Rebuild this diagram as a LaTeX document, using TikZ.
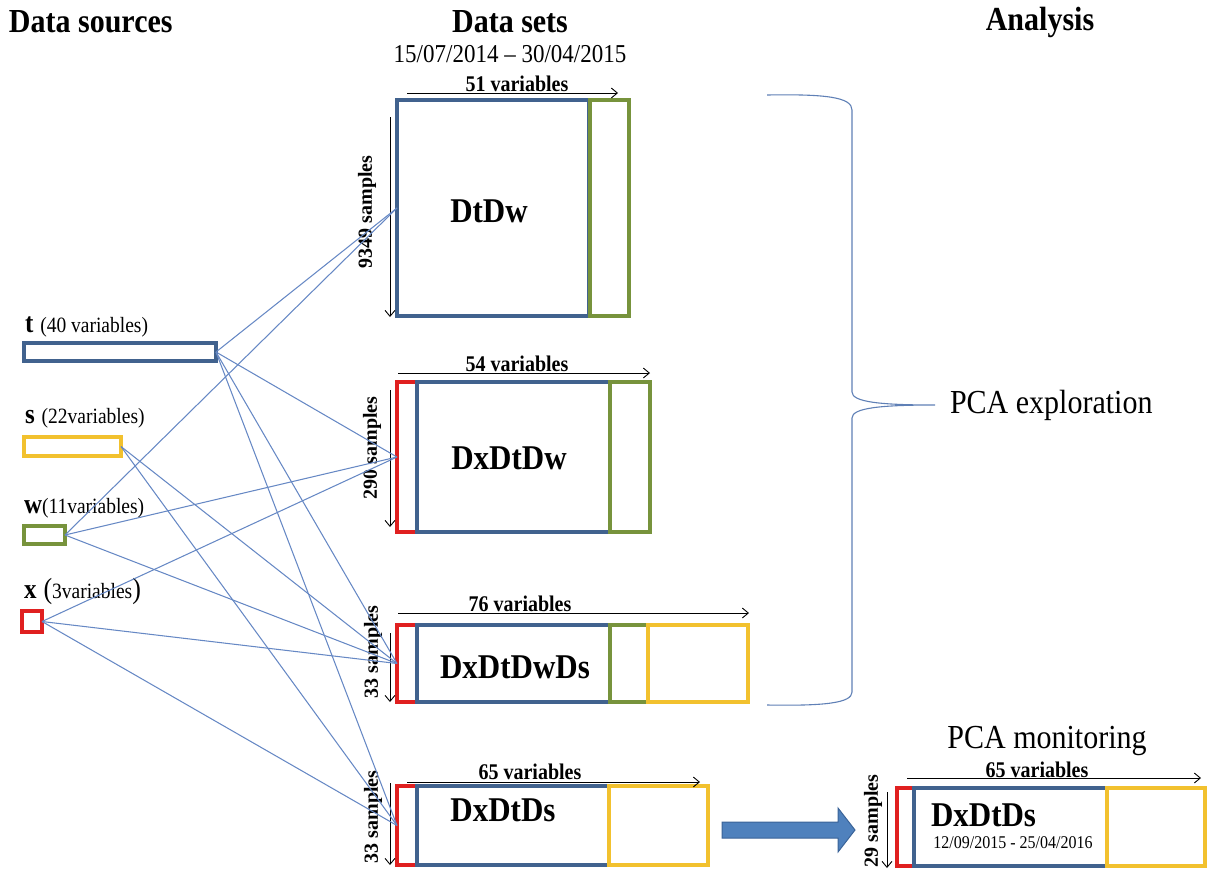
\documentclass[tikz,border=0pt]{standalone}
\usepackage{fontspec}
\setmainfont{Liberation Serif}
\usepackage{graphicx}
\usetikzlibrary{arrows.meta}

\definecolor{cblue}{HTML}{41628E}
\definecolor{cred}{HTML}{E02020}
\definecolor{cgreen}{HTML}{77933C}
\definecolor{cyellow}{HTML}{F2C12E}
\definecolor{clink}{HTML}{6688C4}
\definecolor{cbrace}{HTML}{5F80B6}
\definecolor{carrowfill}{HTML}{4F81BD}
\definecolor{carrowdraw}{HTML}{3A6398}

\newcommand{\vst}[1]{\scalebox{1}[1.12]{#1}}
\newcommand{\fs}[1]{\fontsize{#1}{#1}\selectfont}

\begin{document}
\begin{tikzpicture}[x=1pt,y=-1pt,
  seg/.style={draw=#1, line width=3.3pt, inner sep=0pt, outer sep=0pt, anchor=north west, rectangle},
  link/.style={draw=clink, line width=1.05pt},
  dimarrow/.style={-{Straight Barb[length=6pt,width=10pt]}, line width=0.9pt, black},
  txt/.style={inner sep=0pt, outer sep=0pt},
  hdr/.style={txt, font=\fs{30}\bfseries},
  varlab/.style={txt, font=\fs{20}\bfseries},
  samplab/.style={txt, font=\fs{20}\bfseries, rotate=90},
  dsname/.style={txt, font=\fs{31}\bfseries},
]
\useasboundingbox (0,0) rectangle (1207,871);

% headers
\node[hdr, anchor=west] (h1) at (9,22) {\vst{Data sources}};
\node[hdr] (h2) at (510,22) {\vst{Data sets}};
\node[txt, font=\fs{23}] (h2d) at (510,54) {\vst{15/07/2014 -- 30/04/2015}};
\node[hdr] (h3) at (1040,22) {\vst{Analysis}};

% source boxes
\node[seg=cblue, minimum width=192pt, minimum height=18pt] (t) at (24,343) {};
\node[seg=cyellow, minimum width=97pt, minimum height=19pt] (s) at (24,437) {};
\node[seg=cgreen, minimum width=41pt, minimum height=18pt] (w) at (24,526) {};
\node[seg=cred, minimum width=20pt, minimum height=21pt] (x) at (22,611) {};

\node[txt, anchor=base west] (tl) at (25,332) {\vst{\fs{25}\bfseries t}\hspace{7pt}\vst{\fs{19.5}(40 variables)}};
\node[txt, anchor=base west] (sl) at (25,423) {\vst{\fs{25}\bfseries s}\hspace{7pt}\vst{\fs{19.5}(22variables)}};
\node[txt, anchor=base west] (wl) at (24,513) {\vst{\fs{25}\bfseries w}\vst{\fs{19.5}(11variables)}};
\node[txt, anchor=base west] (xl) at (24,598) {\vst{\fs{25}\bfseries x}\hspace{7pt}\vst{\fs{26}(}\vst{\fs{19.5}3variables}\vst{\fs{26})}};

% DtDw
\node[seg=cblue, minimum width=192pt, minimum height=216pt] (d1b) at (397,100) {};
\node[seg=cgreen, minimum width=39pt, minimum height=216pt] (d1g) at (590,100) {};
\node[dsname] (d1n) at (489,211) {\vst{DtDw}};
\draw[dimarrow] (407,93) -- (618,93);
\node[varlab] (d1v) at (517,84) {\vst{51 variables}};
\draw[dimarrow] (390,117) -- (390,317);
\node[samplab] (d1s) at (367,212) {9349 samples};

% DxDtDw
\node[seg=cred, minimum width=20pt, minimum height=150pt] (d2r) at (397,382) {};
\node[seg=cblue, minimum width=193pt, minimum height=150pt] (d2b) at (417,382) {};
\node[seg=cgreen, minimum width=40pt, minimum height=150pt] (d2g) at (610,382) {};
\node[dsname] (d2n) at (509,458) {\vst{DxDtDw}};
\draw[dimarrow] (398,373) -- (650,373);
\node[varlab] (d2v) at (517,364) {\vst{54 variables}};
\draw[dimarrow] (390,390) -- (390,527);
\node[samplab] (d2s) at (372,448) {290 samples};

% DxDtDwDs
\node[seg=cred, minimum width=20pt, minimum height=77pt] (d3r) at (397,625) {};
\node[seg=cblue, minimum width=193pt, minimum height=77pt] (d3b) at (417,625) {};
\node[seg=cgreen, minimum width=38pt, minimum height=77pt] (d3g) at (610,625) {};
\node[seg=cyellow, minimum width=100pt, minimum height=77pt] (d3y) at (648,625) {};
\node[dsname] (d3n) at (515,667) {\vst{DxDtDwDs}};
\draw[dimarrow] (398,613) -- (749,613);
\node[varlab] (d3v) at (520,604) {\vst{76 variables}};
\draw[dimarrow] (390,633) -- (390,702);
\node[samplab] (d3s) at (373,652) {33 samples};

% DxDtDs
\node[seg=cred, minimum width=20pt, minimum height=79pt] (d4r) at (397,786) {};
\node[seg=cblue, minimum width=192pt, minimum height=79pt] (d4b) at (417,786) {};
\node[seg=cyellow, minimum width=99pt, minimum height=79pt] (d4y) at (609,786) {};
\node[dsname] (d4n) at (503,810) {\vst{DxDtDs}};
\draw[dimarrow] (407,782) -- (700,782);
\node[varlab] (d4v) at (530,772) {\vst{65 variables}};
\draw[dimarrow] (390,783) -- (390,865);
\node[samplab] (d4s) at (373,817) {33 samples};

% links
\foreach \src/\dst in {t/d1b, t/d2r, t/d3r, t/d4r, s/d3r, s/d4r, w/d1b, w/d2r, w/d3r, x/d2r, x/d3r, x/d4r}
  \draw[link] (\src.east) -- (\dst.west);

% brace
\draw[cbrace, line width=1.1pt] (767,95) .. controls (825,94) and (852,97) .. (852,110)
  -- (852,392) .. controls (852,402) and (880,405) .. (935,405)
  .. controls (880,405) and (852,408) .. (852,418)
  -- (852,692) .. controls (852,703) and (825,706) .. (767,705);
\node[txt, anchor=west, font=\fs{30}] (pe) at (950,405) {\vst{PCA exploration}};

% block arrow
\draw[fill=carrowfill, draw=carrowdraw, line width=1pt] (722,822) -- (838,822) -- (838,808) -- (855,830) -- (838,852) -- (838,838) -- (722,838) -- cycle;

% monitoring
\node[txt, font=\fs{30}] (pm) at (1047,741) {\vst{PCA monitoring}};
\node[seg=cred, minimum width=17pt, minimum height=78pt] (m1r) at (897,788) {};
\node[seg=cblue, minimum width=193pt, minimum height=78pt] (m1b) at (914,788) {};
\node[seg=cyellow, minimum width=98pt, minimum height=78pt] (m1y) at (1107,788) {};
\node[dsname, anchor=west] (m1n) at (931,815) {\vst{DxDtDs}};
\node[txt, font=\fs{16}] (m1d) at (1013,843) {\vst{12/09/2015 - 25/04/2016}};
\draw[dimarrow] (907,778) -- (1201,778);
\node[varlab] (m1v) at (1037,770) {\vst{65 variables}};
\draw[dimarrow] (887,792) -- (887,868);
\node[samplab] (m1s) at (873,821) {29 samples};
\end{tikzpicture}
\end{document}
